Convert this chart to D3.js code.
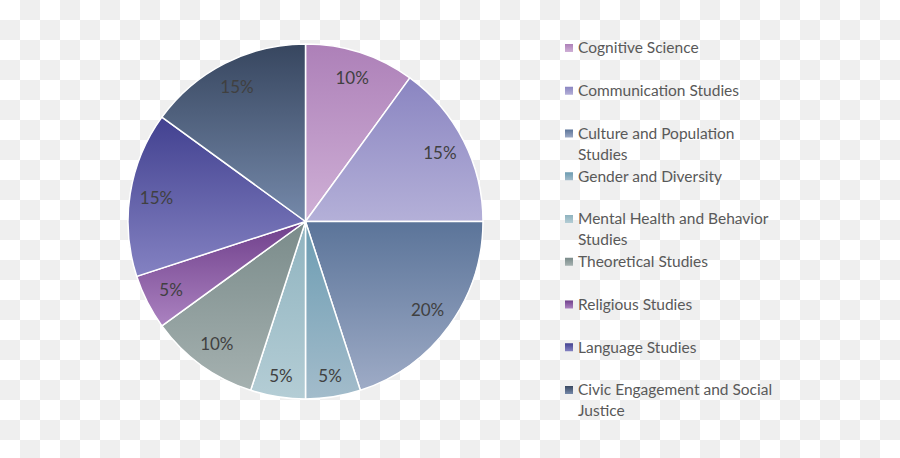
<!DOCTYPE html>
<html>
<head>
<meta charset="utf-8">
<script src="https://cdn.jsdelivr.net/npm/d3@7"></script>
<style>
  body { margin: 0; background: #fff; }
  text { font-family: Lato, "Open Sans", sans-serif; }
</style>
</head>
<body>
<svg id="chart"></svg>
<script>
// data, clockwise from 12 o'clock
const categories = ["Cognitive Science", "Communication Studies", "Culture and Population Studies",
  "Gender and Diversity", "Mental Health and Behavior Studies", "Theoretical Studies",
  "Religious Studies", "Language Studies", "Civic Engagement and Social Justice"];
const shares = [10, 15, 20, 5, 5, 10, 5, 15, 15];
// legend wraps these two-line entries
const legendLines = [["Cognitive Science"], ["Communication Studies"], ["Culture and Population", "Studies"],
  ["Gender and Diversity"], ["Mental Health and Behavior", "Studies"], ["Theoretical Studies"],
  ["Religious Studies"], ["Language Studies"], ["Civic Engagement and Social", "Justice"]];
const topColors = ["#ad80b8", "#8a85c1", "#5b7499", "#6c9cb2", "#8fb3bf", "#7a8b8a", "#6f3f8b", "#424190", "#37465f"];
const bottomColors = ["#cfb0d6", "#b4b0d8", "#9eabc6", "#a3bccb", "#b4cdd5", "#a5b1b0", "#ab82c0", "#8482c2", "#7589aa"];

const width = 900, height = 458;
const cx = 305.5, cy = 221.5, radius = 177.5;

const svg = d3.select("#chart").attr("width", width).attr("height", height);
const defs = svg.append("defs");

// checkerboard background (transparent png look)
const pat = defs.append("pattern").attr("id", "checker")
  .attr("width", 40).attr("height", 40).attr("patternUnits", "userSpaceOnUse");
pat.append("rect").attr("width", 40).attr("height", 40).attr("fill", "#ffffff");
pat.append("rect").attr("x", 20).attr("width", 20).attr("height", 20).attr("fill", "#efefef");
pat.append("rect").attr("y", 20).attr("width", 20).attr("height", 20).attr("fill", "#efefef");
svg.append("rect").attr("width", width).attr("height", height).attr("fill", "url(#checker)");

// one vertical gradient per slice
categories.forEach((c, i) => {
  const g = defs.append("linearGradient").attr("id", "grad" + i)
    .attr("x1", 0).attr("y1", 0).attr("x2", 0).attr("y2", 1);
  g.append("stop").attr("offset", "0%").attr("stop-color", topColors[i]);
  g.append("stop").attr("offset", "100%").attr("stop-color", bottomColors[i]);
});

const pie = d3.pie().sort(null).value(d => d);
const arcs = pie(shares);
const arc = d3.arc().innerRadius(0).outerRadius(radius);
const labelArc = d3.arc().innerRadius(radius * 0.85).outerRadius(radius * 0.85);

const chart = svg.append("g").attr("transform", `translate(${cx},${cy})`);

chart.selectAll("path.slice")
  .data(arcs)
  .join("path")
  .attr("class", "slice")
  .attr("d", arc)
  .attr("fill", (d, i) => `url(#grad${i})`)
  .attr("stroke", "#ffffff")
  .attr("stroke-width", 1.5)
  .attr("stroke-linejoin", "round");

chart.selectAll("text.pct")
  .data(arcs)
  .join("text")
  .attr("class", "pct")
  .attr("transform", d => {
    const [x, y] = labelArc.centroid(d);
    // thin slices get pushed a bit further out
    const k = d.data <= 5 && y > 100 ? 1.04 : 1;
    return `translate(${x * k},${y * k})`;
  })
  .attr("text-anchor", "middle")
  .attr("dy", "0.35em")
  .style("font-size", "17px")
  .style("fill", "#404040")
  .text(d => d.data + "%");

// legend
const legendY = d3.scaleLinear().domain([0, categories.length - 1]).range([48, 390]);
const legend = svg.append("g");
const items = legend.selectAll("g.item")
  .data(categories)
  .join("g")
  .attr("class", "item")
  .attr("transform", (d, i) => `translate(565,${legendY(i)})`);

items.append("rect")
  .attr("x", 0).attr("y", -4)
  .attr("width", 8).attr("height", 8)
  .attr("fill", (d, i) => `url(#grad${i})`);

items.append("text")
  .attr("x", 13)
  .style("font-size", "15.5px")
  .style("fill", "#595959")
  .selectAll("tspan")
  .data((d, i) => legendLines[i])
  .join("tspan")
  .attr("x", 13)
  .attr("dy", (d, j) => j === 0 ? "0.35em" : "21px")
  .text(d => d);
</script>
</body>
</html>
